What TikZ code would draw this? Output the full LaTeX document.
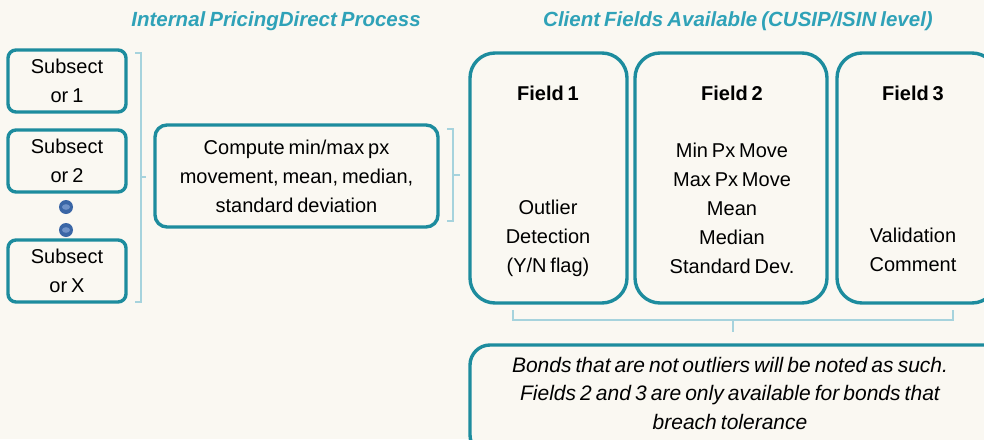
\documentclass[tikz,border=0pt]{standalone}
\usepackage{fontspec}
\setmainfont{Liberation Sans}[WordSpace=0.7]
\definecolor{bgc}{HTML}{FAF8F2}
\definecolor{edge}{HTML}{1D8C9E}
\definecolor{headc}{HTML}{2FA2B8}
\definecolor{brack}{HTML}{A6D3DD}
\definecolor{dotc}{HTML}{3A66A6}
\definecolor{dotin}{HTML}{6F92C8}
\begin{document}
\begin{tikzpicture}[x=1pt,y=-1pt,
  box/.style={draw=edge,line width=3.4pt,fill=bgc,rectangle},
  txt/.style={font=\fontsize{20}{29}\selectfont,align=center,inner sep=0pt},
  head/.style={font=\fontsize{20.5}{22}\selectfont\bfseries\itshape,text=headc,inner sep=0pt},
  fieldhead/.style={font=\fontsize{20}{22}\selectfont\bfseries,inner sep=0pt},
  brk/.style={draw=brack,line width=1.6pt}]
\fill[bgc] (0,0) rectangle (984,439);
\useasboundingbox (0,0) rectangle (984,439);

% headings
\node[head] (h1) at (276,21) {Internal PricingDirect Process};
\node[head] (h2) at (738,21) {Client Fields Available (CUSIP/ISIN level)};

% subset boxes
\node[box,rounded corners=8pt,minimum width=118pt,minimum height=62pt] (s1) at (67,81) {};
\node[txt] at (s1) {Subsect\\or 1};
\node[box,rounded corners=8pt,minimum width=118pt,minimum height=62pt] (s2) at (67,161) {};
\node[txt] at (s2) {Subsect\\or 2};
\node[box,rounded corners=8pt,minimum width=118pt,minimum height=62pt] (s3) at (67,271) {};
\node[txt] at (s3) {Subsect\\or X};

% ellipsis dots
\foreach \n/\yy in {d1/207,d2/230}{
  \node[circle,fill=dotc,minimum size=14pt,inner sep=0pt] (\n) at (66,\yy) {};
  \fill[dotin] (\n) ellipse (4pt and 2.8pt);
}

% bracket gathering the subsets
\draw[brk] (135,53) -- (141,53) -- (141,302) -- (135,302);
\draw[brk] (141,177) -- (146,177);

% compute box
\node[box,rounded corners=12pt,minimum width=283pt,minimum height=102pt] (cmp) at (296.5,176) {};
\node[txt] (cmpt) at (cmp) {Compute min/max px\\movement, mean, median,\\standard deviation};

% bracket after compute box
\draw[brk] (447,129) -- (453,129) -- (453,221) -- (447,221);
\draw[brk] (453,175) -- (460,175);

% field boxes
\node[box,rounded corners=25pt,minimum width=157pt,minimum height=250pt] (f1) at (548.5,178) {};
\node[box,rounded corners=25pt,minimum width=192pt,minimum height=250pt] (f2) at (731,178) {};
\node[box,rounded corners=25pt,minimum width=160pt,minimum height=250pt] (f3) at (917,178) {};

\node[fieldhead] (f1h) at (548,93) {Field 1};
\node[fieldhead] (f2h) at (732,93) {Field 2};
\node[fieldhead] (f3h) at (913,93) {Field 3};

\node[txt] (f1t) at (548,238) {Outlier\\Detection\\(Y/N flag)};
\node[txt] (f2t) at (732,208) {Min Px Move\\Max Px Move\\Mean\\Median\\Standard Dev.};
\node[txt] (f3t) at (913,250) {Validation\\Comment};

% bracket under the fields
\draw[brk] (513,310) -- (513,320) -- (953,320) -- (953,310);
\draw[brk] (733,320) -- (733,332);

% note box
\node[box,rounded corners=20pt,minimum width=540pt,minimum height=110pt] (note) at (740,400) {};
\node[txt,font=\fontsize{21}{28.5}\selectfont\itshape] (notet) at (730,393)
  {Bonds that are not outliers will be noted as such.\\Fields 2 and 3 are only available for bonds that\\breach tolerance};
\end{tikzpicture}
\end{document}
